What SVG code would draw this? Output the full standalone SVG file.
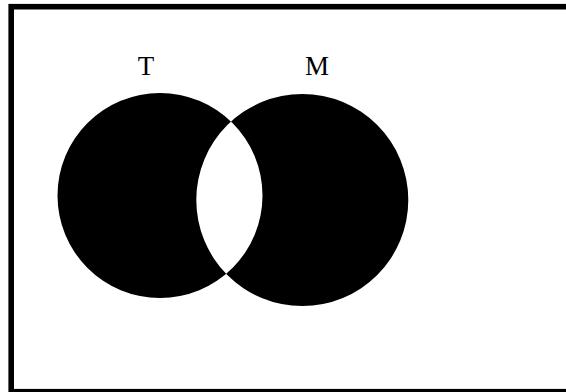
<svg xmlns="http://www.w3.org/2000/svg" width="566" height="392" viewBox="0 0 566 392">
<style>
.lbl{font-family:"Liberation Serif","Times New Roman",serif;font-size:27px;fill:#000;text-anchor:middle}
</style>
<rect width="566" height="392" fill="#fff"/>
<g id="frame"><rect x="11.2" y="6.7" width="562" height="385" fill="none" stroke="#000" stroke-width="5.6"/></g>
<g id="venn">
<path fill="#000" fill-rule="evenodd" d="M57.5,195.5 a102.5,102.5 0 1,0 205,0 a102.5,102.5 0 1,0 -205,0 Z M196.3,200 a106,106 0 1,0 212,0 a106,106 0 1,0 -212,0 Z"/>
</g>
<g id="T"><text class="lbl" x="146" y="75">T</text></g>
<g id="M"><text class="lbl" x="317" y="75">M</text></g>
</svg>
